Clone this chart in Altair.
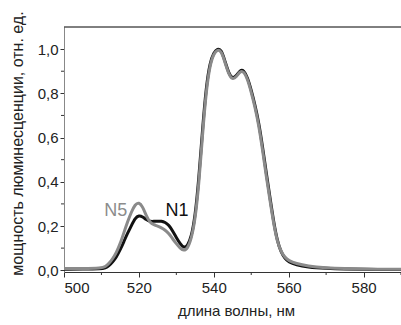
import altair as alt
import pandas as pd

# wavelength grid (nm)
wl = [500, 505, 510, 511, 512, 513, 514, 515, 516, 517, 518, 519, 520, 521, 522, 523, 524,
      525, 526, 527, 528, 529, 530, 531, 532, 533, 534, 535, 536, 537, 538, 539, 540,
      541, 542, 543, 544, 545, 546, 547, 548, 549, 550, 551, 552, 553, 554, 555, 556,
      557, 558, 559, 560, 562, 565, 570, 575, 580, 585, 590]

n1 = [0.005, 0.005, 0.006, 0.010, 0.020, 0.038, 0.060, 0.092, 0.130, 0.168, 0.202, 0.236, 0.248, 0.242, 0.228, 0.220, 0.221,
      0.222, 0.222, 0.217, 0.204, 0.178, 0.148, 0.120, 0.100, 0.110, 0.150, 0.240, 0.410, 0.640, 0.835, 0.940, 0.985,
      1.002, 0.998, 0.945, 0.890, 0.866, 0.878, 0.905, 0.905, 0.872, 0.815, 0.748, 0.670, 0.562, 0.442, 0.330, 0.218,
      0.130, 0.080, 0.053, 0.037, 0.024, 0.014, 0.008, 0.005, 0.004, 0.003, 0.003]

n5 = [0.008, 0.008, 0.010, 0.015, 0.030, 0.052, 0.080, 0.120, 0.170, 0.220, 0.264, 0.298, 0.308, 0.288, 0.245, 0.215, 0.205,
      0.200, 0.192, 0.182, 0.166, 0.142, 0.120, 0.100, 0.087, 0.098, 0.142, 0.225, 0.385, 0.615, 0.815, 0.930, 0.980,
      0.998, 0.992, 0.940, 0.885, 0.862, 0.873, 0.900, 0.900, 0.865, 0.806, 0.738, 0.657, 0.547, 0.427, 0.317, 0.208,
      0.126, 0.083, 0.058, 0.043, 0.030, 0.019, 0.011, 0.007, 0.005, 0.004, 0.004]

y_major = [0.0, 0.2, 0.4, 0.6, 0.8, 1.0]
y_minor = [0.1, 0.3, 0.5, 0.7, 0.9]
x_major = [500, 520, 540, 560, 580]
x_minor = [510, 530, 550, 570, 590]

labels = ["N5", "N1"]
label_x = [513.8, 530.2]
label_y = [0.27, 0.27]
label_colors = ["#8c8c8c", "#111111"]

W, H = 337, 245
FONT = "Liberation Sans"

df = pd.DataFrame({"wl": wl * 2, "v": n5 + n1,
                   "series": ["N5"] * len(wl) + ["N1"] * len(wl)})

xscale = alt.Scale(domain=[500, 590], nice=False, zero=False)
yscale = alt.Scale(domain=[-0.008, 1.1], nice=False, zero=False)

base = alt.Chart(df)

lines_n1 = base.transform_filter(alt.datum.series == "N1").mark_line(
    color="#111111", strokeWidth=3, interpolate="basis"
).encode(
    x=alt.X("wl:Q", scale=xscale,
            axis=alt.Axis(values=x_major, title="длина волны, нм", format="d",
                          tickSize=5, tickColor="#333", domainColor="#333",
                          labelPadding=3, titlePadding=8, titleX=172, grid=False)),
    y=alt.Y("v:Q", scale=yscale,
            axis=alt.Axis(values=y_major, title="мощность люминесценции, отн. ед.",
                          labelExpr="replace(format(datum.value, '.1f'), '.', ',')",
                          tickSize=4, tickColor="#333", domainColor="#888",
                          labelPadding=2, titlePadding=12, titleY=116,
                          titleFontSize=16, grid=False)),
)

lines_n5 = base.transform_filter(alt.datum.series == "N5").mark_line(
    color="#8a8a8a", strokeWidth=3, interpolate="basis"
).encode(x=alt.X("wl:Q", scale=xscale), y=alt.Y("v:Q", scale=yscale))

ymin_df = pd.DataFrame({"v": y_minor})
ymin = alt.Chart(ymin_df).mark_rule(color="#333", strokeWidth=1).encode(
    y=alt.Y("v:Q", scale=yscale), x=alt.value(-3), x2=alt.value(0))

xmin_df = pd.DataFrame({"wl": x_minor})
xmin = alt.Chart(xmin_df).mark_rule(color="#333", strokeWidth=1).encode(
    x=alt.X("wl:Q", scale=xscale), y=alt.value(H), y2=alt.value(H + 3))

top = alt.Chart(pd.DataFrame({"a": [0]})).mark_rule(color="#000", strokeWidth=1).encode(
    y=alt.value(0), x=alt.value(0), x2=alt.value(W))

lab_df = pd.DataFrame({"t": labels, "x": label_x, "y": label_y, "c": label_colors})
labs = alt.Chart(lab_df).mark_text(font=FONT, fontSize=18, align="center", baseline="middle").encode(
    x=alt.X("x:Q", scale=xscale), y=alt.Y("y:Q", scale=yscale), text="t:N",
    color=alt.Color("c:N", scale=None))

chart = alt.layer(lines_n1, lines_n5, ymin, xmin, top, labs).properties(
    width=W, height=H,
    autosize=alt.AutoSizeParams(type="none"),
    padding={"left": 64, "top": 27, "right": 0, "bottom": 53},
    background="white",
).configure_view(stroke=None).configure_axis(
    labelFont=FONT, titleFont=FONT, labelFontSize=15, titleFontSize=15,
    labelColor="#222", titleColor="#222", titleFontWeight="normal",
)

chart.save("out.html", embed_options={"renderer": "svg", "actions": False})
